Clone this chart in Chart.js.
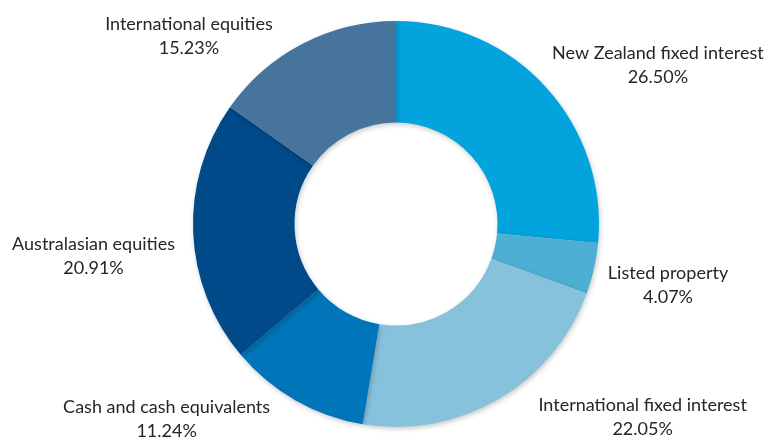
<!DOCTYPE html>
<html>
<head>
<meta charset="utf-8">
<script src="https://cdn.jsdelivr.net/npm/chart.js@4/dist/chart.umd.min.js"></script>
<style>
  html, body { margin: 0; padding: 0; background: #ffffff; }
  #wrap { width: 766px; height: 438px; position: relative; }
</style>
</head>
<body>
<div id="wrap"><canvas id="chart"></canvas></div>
<script>
// Asset allocation, clockwise from 12 o'clock
const categories = [
    'New Zealand fixed interest',
    'Listed property',
    'International fixed interest',
    'Cash and cash equivalents',
    'Australasian equities',
    'International equities'
];
const shares = [26.50, 4.07, 22.05, 11.24, 20.91, 15.23];
const sliceColors = ['#03a3dd', '#4dafd4', '#86c2dc', '#0075b9', '#004a8a', '#47749c'];

// where each label sits, in multiples of the outer radius from the centre
const labelOffsets = [
    [1.29, -0.78],
    [1.34, 0.30],
    [1.215, 0.95],
    [-1.13, 0.962],
    [-1.49, 0.16],
    [-1.02, -0.925]
];

// soft drop shadow under the slices
const sliceShadow = {
    id: 'sliceShadow',
    beforeDatasetsDraw(chart) {
        const ctx = chart.ctx;
        ctx.save();
        ctx.shadowColor = 'rgba(0, 0, 0, 0.22)';
        ctx.shadowBlur = 5;
        ctx.shadowOffsetX = 1;
        ctx.shadowOffsetY = 2;
    },
    afterDatasetsDraw(chart) {
        chart.ctx.restore();
    }
};

const outsideLabels = {
    id: 'outsideLabels',
    afterDraw(chart) {
        const ctx = chart.ctx;
        const arc = chart.getDatasetMeta(0).data[0];
        if (!arc) return;
        const cx = arc.x, cy = arc.y, r = arc.outerRadius;
        ctx.save();
        ctx.font = '18px Lato, "Open Sans", sans-serif';
        ctx.fillStyle = '#262626';
        ctx.textAlign = 'center';
        ctx.textBaseline = 'middle';
        categories.forEach((name, i) => {
            const x = cx + labelOffsets[i][0] * r;
            const y = cy + labelOffsets[i][1] * r;
            ctx.fillText(name, x, y - 12);
            ctx.fillText(shares[i].toFixed(2) + '%', x, y + 12);
        });
        ctx.restore();
    }
};

new Chart(document.getElementById('chart'), {
    type: 'doughnut',
    data: {
        labels: categories,
        datasets: [{
            data: shares,
            backgroundColor: sliceColors,
            borderWidth: 0
        }]
    },
    options: {
        responsive: true,
        maintainAspectRatio: false,
        animation: false,
        cutout: '50%',
        layout: {
            padding: { left: 193, right: 167, top: 21, bottom: 11 }
        },
        plugins: {
            legend: { display: false },
            tooltip: { enabled: false }
        }
    },
    plugins: [sliceShadow, outsideLabels]
});
</script>
</body>
</html>
